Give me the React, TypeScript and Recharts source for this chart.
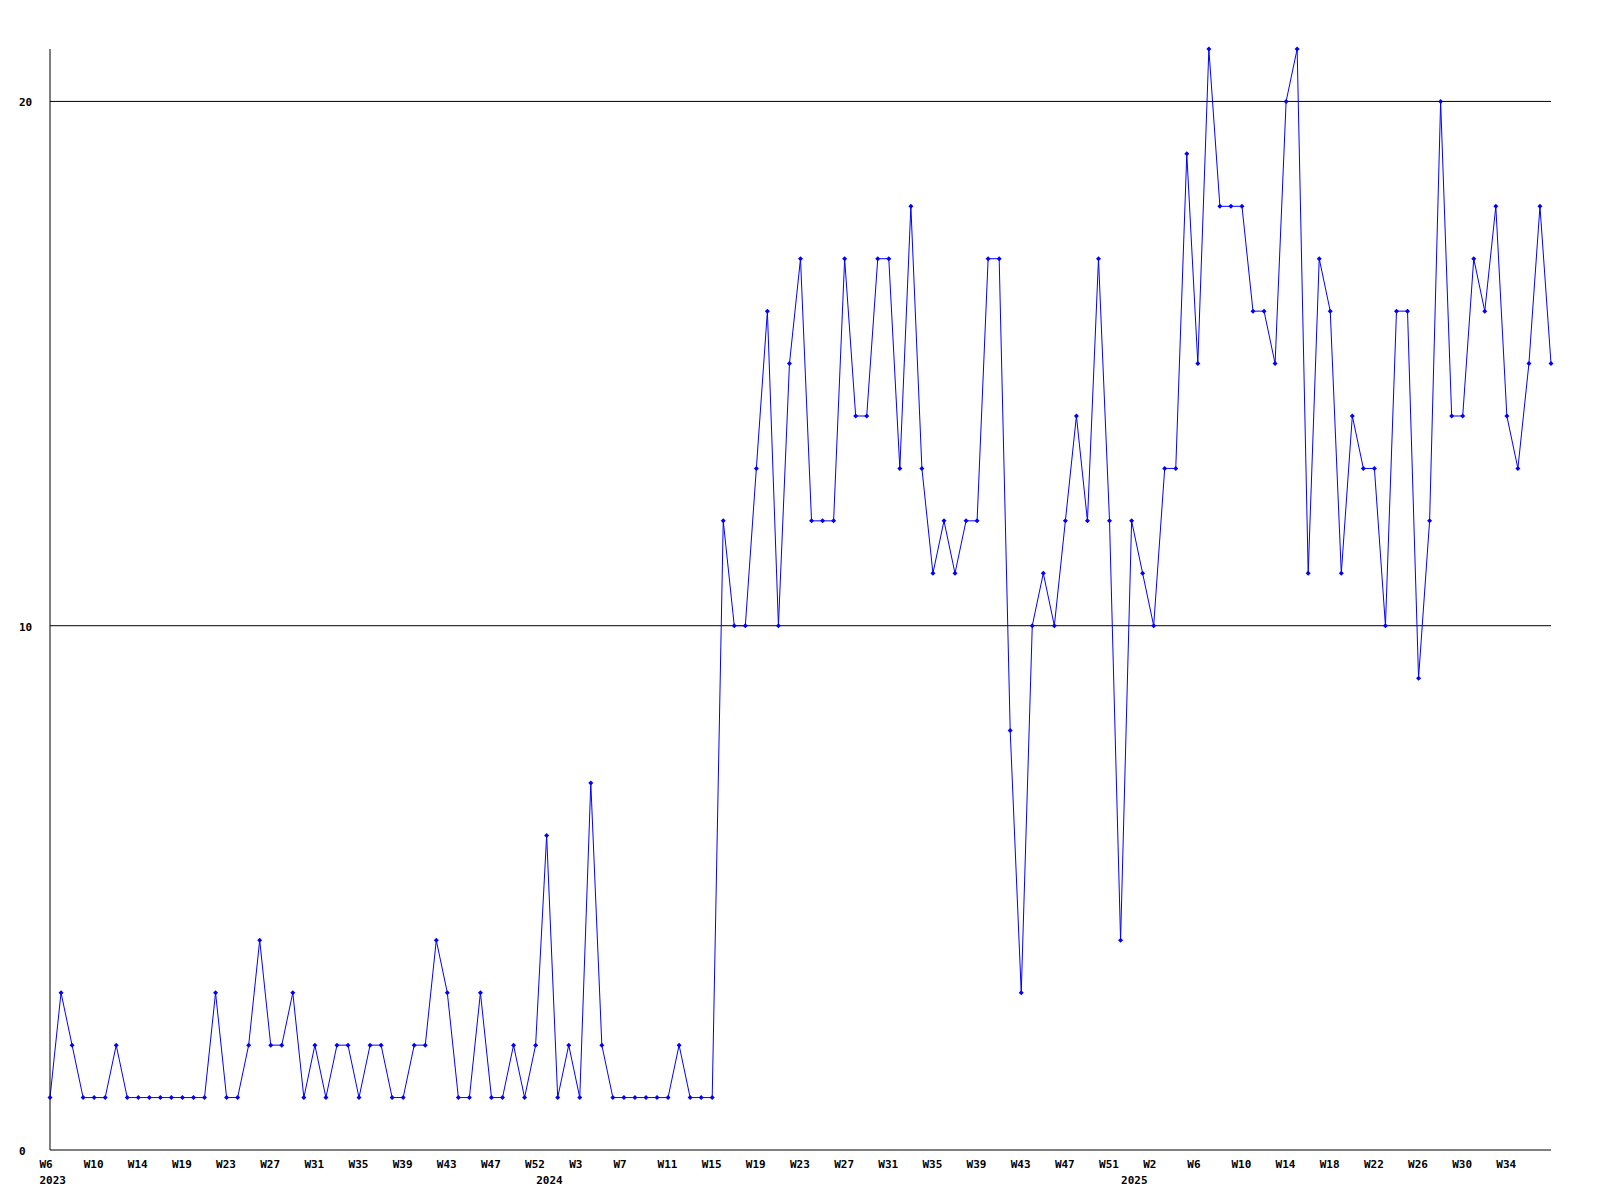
import { LineChart, Line, XAxis, YAxis, ReferenceLine } from "recharts";

// weekly counts, 2023 W6 .. 2025 W38
const values = [
  1, 3, 2, 1, 1, 1, 2, 1, 1, 1, 1, 1, 1, 1, 1, 3, 1, 1, 2, 4,
  2, 2, 3, 1, 2, 1, 2, 2, 1, 2, 2, 1, 1, 2, 2, 4, 3, 1, 1, 3,
  1, 1, 2, 1, 2, 6, 1, 2, 1, 7, 2, 1, 1, 1, 1, 1, 1, 2, 1, 1,
  1, 12, 10, 10, 13, 16, 10, 15, 17, 12, 12, 12, 17, 14, 14, 17, 17, 13, 18, 13,
  11, 12, 11, 12, 12, 17, 17, 8, 3, 10, 11, 10, 12, 14, 12, 17, 12, 4, 12, 11,
  10, 13, 13, 19, 15, 21, 18, 18, 18, 16, 16, 15, 20, 21, 11, 17, 16, 11, 14, 13,
  13, 10, 16, 16, 9, 12, 20, 14, 14, 17, 16, 18, 14, 13, 15, 18, 15,
];

// one label every 4 weeks
const weekLabels = [
  "W6", "W10", "W14", "W19", "W23", "W27", "W31", "W35", "W39", "W43", "W47", "W52",
  "W3", "W7", "W11", "W15", "W19", "W23", "W27", "W31", "W35", "W39", "W43", "W47", "W51",
  "W2", "W6", "W10", "W14", "W18", "W22", "W26", "W30", "W34",
];
const weekStep = 4;

const years = ["2023", "2024", "2025"];
const yearAt = [0, 45, 98];

const yTicks = [0, 10, 20];
const gridValues = [10, 20];

const data = values.map((v, i) => ({ i, v }));
const weekTicks = weekLabels.map((_, k) => k * weekStep);
const allTicks = Array.from(new Set([...weekTicks, ...yearAt])).sort((a, b) => a - b);

const FONT = "'DejaVu Sans Mono', monospace";

function XTick(props: any) {
  const { x, y, payload } = props;
  const val = payload.value;
  const wk = weekTicks.indexOf(val);
  const yr = yearAt.indexOf(val);
  return (
    <g>
      {wk >= 0 && (
        <text x={x - 10.5} y={y + 16} fontFamily={FONT} fontSize={11} fontWeight="bold" fill="#000">
          {weekLabels[wk]}
        </text>
      )}
      {yr >= 0 && (
        <text x={x - 10.5} y={y + 32} fontFamily={FONT} fontSize={11} fontWeight="bold" fill="#000">
          {years[yr]}
        </text>
      )}
    </g>
  );
}

function YTick(props: any) {
  const { y, payload } = props;
  return (
    <text x={19} y={y + 5} fontFamily={FONT} fontSize={11} fontWeight="bold" fill="#000">
      {payload.value}
    </text>
  );
}

function Dot(props: any) {
  const { cx, cy } = props;
  if (cx == null || cy == null) return null;
  return (
    <path
      d={`M${cx - 2.5},${cy} L${cx},${cy - 2.5} L${cx + 2.5},${cy} L${cx},${cy + 2.5} Z`}
      fill="#0000ff"
    />
  );
}

export default function App() {
  return (
    <div style={{ position: "absolute", left: 0, top: 0, width: 1600, height: 1200, background: "#fff" }}>
      <LineChart width={1600} height={1200} data={data} margin={{ top: 49, right: 49, left: 0, bottom: 0 }}>
        <XAxis
          dataKey="i"
          type="number"
          domain={[0, values.length - 1]}
          ticks={allTicks}
          interval={0}
          tickSize={0}
          tickLine={false}
          height={50}
          axisLine={{ stroke: "#000" }}
          tick={<XTick />}
        />
        <YAxis
          domain={[0, 21]}
          ticks={yTicks}
          width={50}
          tickSize={0}
          tickLine={false}
          axisLine={{ stroke: "#000" }}
          tick={<YTick />}
        />
        {gridValues.map((g) => (
          <ReferenceLine key={g} y={g} stroke="#000" strokeWidth={1} />
        ))}
        <Line
          type="linear"
          dataKey="v"
          stroke="#0000ff"
          strokeWidth={1}
          dot={<Dot />}
          activeDot={false}
          isAnimationActive={false}
        />
      </LineChart>
    </div>
  );
}
